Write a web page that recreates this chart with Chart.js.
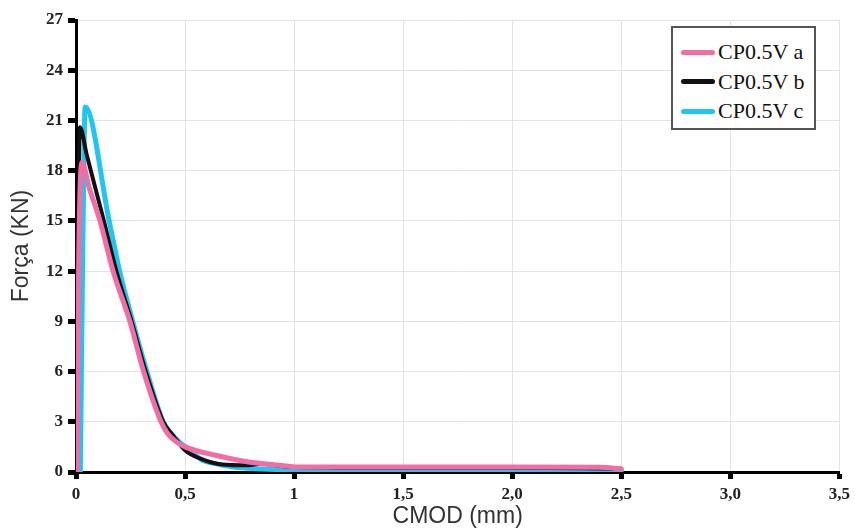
<!DOCTYPE html>
<html>
<head>
<meta charset="utf-8">
<script src="https://cdn.jsdelivr.net/npm/chart.js@4/dist/chart.umd.min.js"></script>
<style>
  body { margin: 0; background: #fff; }
  #wrap { position: relative; width: 855px; height: 531px; }
  #legend {
    position: absolute; left: 671px; top: 26px; width: 141px; height: 100px;
    border: 2.5px solid #555; background: #fff;
    font-family: "Liberation Serif", serif; font-size: 22px; color: #111;
  }
  #legend .row { position: absolute; left: 8px; height: 24px; line-height: 24px; white-space: nowrap; }
  #legend .swatch { display: inline-block; width: 34px; height: 5px; border-radius: 3px; vertical-align: middle; margin-right: 3px; margin-top: -3px; }
</style>
</head>
<body>
<div id="wrap">
  <canvas id="chart"></canvas>
  <div id="legend"></div>
</div>
<script>
// series names + colours
const seriesNames = ["CP0.5V a", "CP0.5V b", "CP0.5V c"];
const seriesColors = ["#f36ca3", "#111111", "#1fc6f2"];

// CMOD (mm) / Força (kN)
const cmodA = [0.005, 0.012, 0.027, 0.06, 0.11, 0.17, 0.247, 0.31, 0.39, 0.42, 0.46, 0.5, 0.64, 0.79, 0.92, 1.02, 1.5, 2.0, 2.4, 2.5];
const forceA = [0, 12, 18.5, 17.0, 15.0, 12.0, 9.0, 6.0, 3.0, 2.3, 1.8, 1.5, 1.0, 0.6, 0.42, 0.3, 0.3, 0.3, 0.28, 0.18];

const cmodB = [0.003, 0.01, 0.018, 0.05, 0.128, 0.185, 0.255, 0.32, 0.4, 0.45, 0.5, 0.57, 0.67, 0.78, 0.85, 0.92, 1.0, 1.5, 2.0, 2.5];
const forceB = [0, 14, 20.6, 18.9, 15.0, 12.0, 9.0, 6.0, 3.0, 2.1, 1.3, 0.8, 0.45, 0.4, 0.5, 0.4, 0.3, 0.25, 0.25, 0.2];

const cmodC = [0.02, 0.03, 0.042, 0.152, 0.2, 0.26, 0.325, 0.4, 0.45, 0.52, 0.58, 0.64, 0.72, 0.85, 1.0, 1.5, 2.0, 2.5];
const forceC = [0, 12, 21.8, 15.0, 12.0, 9.0, 6.0, 3.0, 2.1, 1.3, 0.7, 0.5, 0.3, 0.18, 0.15, 0.15, 0.15, 0.1];

// axis tick labels
const xTickLabels = ["0", "0,5", "1", "1,5", "2,0", "2,5", "3,0", "3,5"];
const yTickLabels = ["0", "3", "6", "9", "12", "15", "18", "21", "24", "27"];

const seriesX = [cmodA, cmodB, cmodC];
const seriesY = [forceA, forceB, forceC];
const lineWidths = [5, 4, 5];

const datasets = seriesNames.map((name, i) => ({
  label: name,
  data: seriesX[i].map((x, j) => ({ x, y: seriesY[i][j] })),
  borderColor: seriesColors[i],
  backgroundColor: seriesColors[i],
  borderWidth: lineWidths[i],
  showLine: true,
  pointRadius: 0,
  cubicInterpolationMode: "monotone",
  borderCapStyle: "round",
  borderJoinStyle: "round"
}));

const tickFont = { family: "'Liberation Serif', serif", size: 17, weight: "bold" };
const titleFont = { family: "'Liberation Sans', Arial, sans-serif", size: 23 };

new Chart(document.getElementById("chart"), {
  type: "scatter",
  data: { datasets },
  options: {
    responsive: true,
    maintainAspectRatio: false,
    animation: false,
    layout: { padding: { top: 20, right: 13, left: 0, bottom: 0 } },
    plugins: { legend: { display: false }, tooltip: { enabled: false } },
    scales: {
      x: {
        type: "linear",
        min: 0, max: 3.5,
        ticks: {
          stepSize: 0.5,
          color: "#222",
          font: tickFont,
          padding: 5,
          maxRotation: 0,
          callback: (v, i) => xTickLabels[i]
        },
        grid: { color: "#e3e3e3", lineWidth: 1, tickColor: "#000", tickLength: 7, tickWidth: 5 },
        border: { color: "#000", width: 3 },
        title: { display: true, text: "CMOD (mm)", color: "#333", font: titleFont, padding: { top: 0, bottom: 1 } },
        afterFit: s => { s.height = 59; }
      },
      y: {
        min: 0, max: 27,
        ticks: {
          stepSize: 3,
          color: "#222",
          font: tickFont,
          padding: 5,
          callback: (v, i) => yTickLabels[i]
        },
        grid: { color: "#e3e3e3", lineWidth: 1, tickColor: "#000", tickLength: 8, tickWidth: 5 },
        border: { color: "#000", width: 3 },
        title: { display: true, text: "Força (KN)", color: "#333", font: titleFont, padding: { top: 8, bottom: 0 } },
        afterFit: s => { s.width = 76; }
      }
    }
  }
});

// legend box
const legend = document.getElementById("legend");
seriesNames.forEach((name, i) => {
  const row = document.createElement("div");
  row.className = "row";
  row.style.top = (12 + i * 29.5) + "px";
  row.innerHTML = '<span class="swatch" style="background:' + seriesColors[i] + '"></span>' + name;
  legend.appendChild(row);
});
</script>
</body>
</html>
